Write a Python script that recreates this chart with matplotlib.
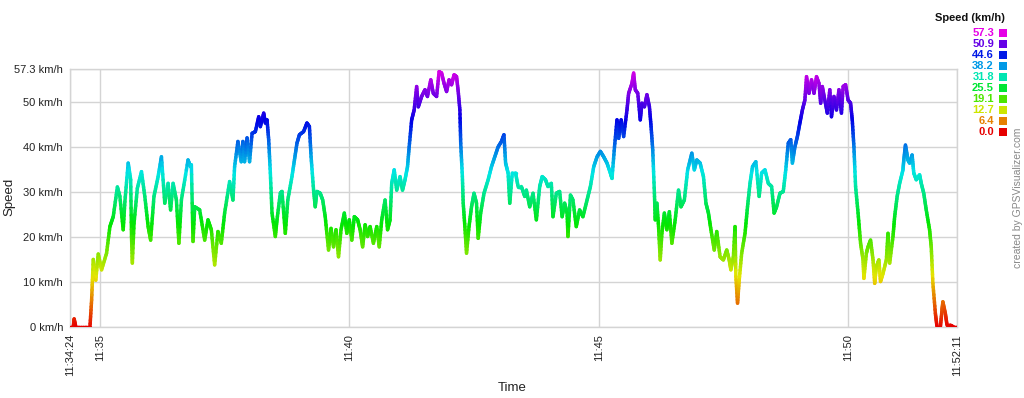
import numpy as np
import matplotlib
matplotlib.use("Agg")
import matplotlib.pyplot as plt
from matplotlib.collections import LineCollection
from matplotlib.colors import hsv_to_rgb

plt.rcParams['font.family'] = ['Liberation Sans', 'DejaVu Sans']

# ---- data: elapsed seconds since 11:34:24 and speed (km/h) ----
times_s = [0, 4, 5, 7, 24, 26, 28, 31, 34, 38, 44, 48, 52, 57, 60, 64, 66, 70, 73, 74,
           75, 77, 81, 86, 90, 94, 97, 101, 106, 110, 114, 118, 121, 124, 128, 131, 134, 142, 145, 146,
           148, 150, 156, 162, 166, 170, 174, 178, 182, 186, 192, 196, 198, 202, 206, 208, 210, 213, 216, 219,
           223, 227, 229, 233, 235, 237, 239, 241, 243, 247, 249, 253, 255, 259, 262, 267, 270, 273, 276, 281,
           285, 288, 290, 293, 295, 297, 301, 304, 307, 311, 314, 317, 320, 323, 326, 330, 333, 336, 339, 342,
           346, 349, 352, 355, 358, 361, 365, 369, 372, 375, 379, 382, 385, 387, 390, 393, 397, 400, 403, 406,
           408, 411, 414, 417, 419, 423, 427, 430, 434, 437, 441, 444, 447, 450, 453, 456, 459, 462, 465, 467,
           469, 470, 472, 473, 475, 477, 480, 483, 486, 489, 491, 494, 498, 503, 507, 511, 515, 519, 522, 524,
           527, 529, 532, 536, 539, 543, 547, 549, 553, 557, 561, 565, 568, 572, 575, 579, 581, 585, 589, 592,
           595, 598, 599, 602, 605, 609, 613, 617, 622, 626, 630, 634, 638, 642, 646, 650, 652, 655, 658, 660,
           663, 666, 670, 672, 676, 678, 680, 683, 686, 688, 691, 694, 697, 699, 701, 703, 704, 706, 708, 710,
           712, 715, 718, 721, 724, 728, 732, 735, 739, 743, 748, 751, 754, 758, 762, 765, 768, 771, 775, 778,
           782, 786, 790, 793, 795, 798, 800, 801, 803, 805, 808, 812, 815, 818, 821, 825, 829, 832, 836, 840,
           844, 847, 850, 854, 858, 861, 864, 867, 869, 872, 875, 878, 881, 884, 886, 889, 892, 895, 898, 901,
           903, 905, 908, 911, 914, 916, 919, 922, 925, 928, 930, 933, 936, 939, 941, 943, 945, 948, 951, 954,
           955, 958, 960, 963, 966, 968, 970, 973, 975, 978, 982, 984, 986, 990, 992, 995, 998, 1002, 1003, 1005,
           1008, 1010, 1013, 1015, 1018, 1022, 1024, 1027, 1030, 1034, 1036, 1038, 1041, 1043, 1047, 1049, 1050, 1053, 1055, 1059,
           1063, 1067]
speed_kmh = [0, 0, 1.8, 0, 0, 6, 15, 10.4, 16.2, 12.7, 16.4, 22.3, 24.5, 31.1, 29, 21.6, 27.8, 36.4, 32.7, 20.1,
             14.2, 23, 30.8, 34.5, 29, 22.3, 19.3, 29, 33.4, 37.8, 27.5, 31.9, 26, 31.9, 28.2, 18.6, 28.2, 37.1, 35.6, 36,
             19, 26.7, 26, 19.3, 23.8, 21.6, 13.8, 21.2, 18.6, 25.3, 32.3, 28.2, 35.6, 41.2, 36.7, 41.2, 36.7, 42, 36.7, 43,
             43.4, 46.7, 44.5, 47.5, 45.3, 46, 41.6, 34.2, 25.3, 20.1, 23.8, 29.7, 30.1, 20.8, 28.2, 33.4, 37.1, 40.8, 42.7, 43.4,
             45.3, 44.5, 37.8, 30.4, 26.7, 30.1, 29.7, 28.2, 24.5, 17.1, 21.9, 17.8, 21.6, 15.6, 21.6, 25.3, 20.8, 23.8, 19.3, 24.5,
             23.8, 21.6, 17.8, 22.7, 20.1, 22.3, 18.6, 22.3, 17.8, 23.8, 28.2, 21.6, 23.8, 31.9, 34.9, 30.4, 33.4, 30.4, 32.7, 35.6,
             40, 46, 48.2, 53.4, 48.9, 51.2, 52.7, 51.2, 54.9, 51.9, 51.2, 56.7, 56.4, 54.1, 52.3, 54.9, 53.8, 56, 55.6, 52.3,
             48.2, 40.8, 33.4, 27.5, 22.3, 16.4, 22.3, 26.7, 29.7, 27.5, 19.7, 25.3, 29.7, 32.7, 35.6, 37.8, 40, 41.2, 42.7, 36.4,
             34.2, 27.5, 34.2, 34.2, 31.2, 31.2, 29, 30.4, 26.7, 29.7, 23.8, 31.2, 33.4, 32.7, 31.2, 31.9, 24.5, 29.7, 30.1, 24.5,
             27.5, 25.3, 20.1, 29.3, 28.2, 22.3, 26, 24.5, 28.2, 31.2, 35.6, 37.8, 39, 37.8, 36.4, 34.2, 33, 40, 46, 41.9,
             46, 42.3, 48.2, 51.9, 54.1, 56.4, 52.7, 51.9, 46, 49.7, 48.9, 51.6, 48.9, 44.5, 39.3, 29.7, 23.8, 27.5, 22.3, 14.9,
             20.8, 25.3, 21.6, 25.6, 18.6, 23.8, 30.4, 26.7, 28.2, 34.9, 38.6, 34.9, 37.1, 36.4, 33.4, 27.5, 25.3, 21.6, 17.1, 21.2,
             15.6, 14.9, 17.1, 14.9, 12.7, 15.6, 22.3, 11.2, 5.3, 10.4, 16.4, 20.8, 26.7, 31.9, 35.6, 36.7, 29, 34.2, 34.9, 31.9,
             31.2, 25.3, 26.7, 29.7, 30.1, 34.9, 40.8, 41.6, 36.4, 40, 42.3, 45.3, 48.2, 50.4, 55.6, 51.9, 54.9, 51.9, 55.6, 54.1,
             49.7, 53.4, 50.4, 47.5, 52.7, 46.7, 51.2, 48.2, 52.7, 47.5, 53.4, 53.8, 50.4, 49.7, 46, 40, 31.2, 25.3, 18.6, 14.9,
             10.8, 16.4, 17.8, 19.3, 14.9, 9.7, 13.4, 14.9, 10.1, 11.9, 14.9, 20.8, 14.2, 20.1, 24.5, 29, 31.9, 34.9, 37.1, 40.4,
             37.1, 36.4, 38.2, 34.2, 32.7, 33.8, 31.9, 29.7, 26, 21.6, 17.8, 9.7, 3, 0, 0, 3.8, 5.6, 3, 0.4, 0.4,
             0, 0]

max_speed = 57.3
y_ticks = [0, 10, 20, 30, 40, 50, 57.3]
y_tick_labels = ["0 km/h", "10 km/h", "20 km/h", "30 km/h", "40 km/h", "50 km/h", "57.3 km/h"]
x_ticks = [0, 36, 336, 636, 936, 1067]
x_tick_labels = ["11:34:24", "11:35", "11:40", "11:45", "11:50", "11:52:11"]
legend_values = [57.3, 50.9, 44.6, 38.2, 31.8, 25.5, 19.1, 12.7, 6.4, 0.0]


def speed_color(v):
    v = np.clip(np.asarray(v, dtype=float), 0, max_speed)
    h = v / max_speed * (300.0 / 360.0)
    hsv = np.stack([h, np.ones_like(h), np.full_like(h, 0.9)], axis=-1)
    return hsv_to_rgb(hsv)


W, H = 1024, 398
fig = plt.figure(figsize=(W / 100, H / 100), dpi=100)
L, R, B, T = 70, 957, 327, 69
ax = fig.add_axes([L / W, 1 - B / H, (R - L) / W, (B - T) / H])

t = np.asarray(times_s, dtype=float)
s = np.asarray(speed_kmh, dtype=float)
# colour gradient along each segment (rendering only)
n_sub = 8
segs, cols = [], []
for i in range(len(t) - 1):
    ft = np.linspace(t[i], t[i + 1], n_sub + 1)
    fs = np.linspace(s[i], s[i + 1], n_sub + 1)
    for j in range(n_sub):
        segs.append([(ft[j], fs[j]), (ft[j + 1], fs[j + 1])])
        cols.append((fs[j] + fs[j + 1]) / 2)
lc = LineCollection(segs, colors=speed_color(cols), linewidths=2.5, capstyle='round', joinstyle='round', zorder=3)
ax.add_collection(lc)

ax.set_xlim(0, 1067)
ax.set_ylim(0, max_speed)
ax.set_yticks(y_ticks)
ax.set_yticklabels(y_tick_labels, fontsize=8, color='#222222')
ax.set_xticks(x_ticks)
ax.set_xticklabels(x_tick_labels, rotation=90, fontsize=8, color='#222222')
ax.tick_params(length=0, pad=5)
ax.grid(True, color='#d4d4d4', linewidth=1, zorder=0)
for sp in ax.spines.values():
    sp.set_color('#d4d4d4')
    sp.set_linewidth(1)
ax.set_axisbelow(True)

fig.text(9 / W, 1 - 197 / H, "Speed", rotation=90, ha='center', va='center', fontsize=9.5, color='#222222')
fig.text(512 / W, 1 - 388 / H, "Time", ha='center', va='center', fontsize=9.5, color='#222222')

# legend
fig.text(1005 / W, 1 - 18 / H, "Speed (km/h)", ha='right', va='center', fontsize=8, fontweight='bold', color='#111111')
for k, val in enumerate(legend_values):
    yc = 33 + k * 11.0
    c = speed_color(val)
    fig.text(994 / W, 1 - yc / H, f"{val:.1f}", ha='right', va='center', fontsize=8, fontweight='bold', color=c)
    fig.patches.append(plt.Rectangle((999 / W, 1 - (yc + 4) / H), 8 / W, 8 / H, transform=fig.transFigure,
                                     facecolor=c, edgecolor='none'))

fig.text(1018 / W, 1 - 198 / H, "created by GPSVisualizer.com", rotation=90, ha='center', va='center',
         fontsize=7.5, color='#888888')

fig.savefig("out.png", dpi=100)
